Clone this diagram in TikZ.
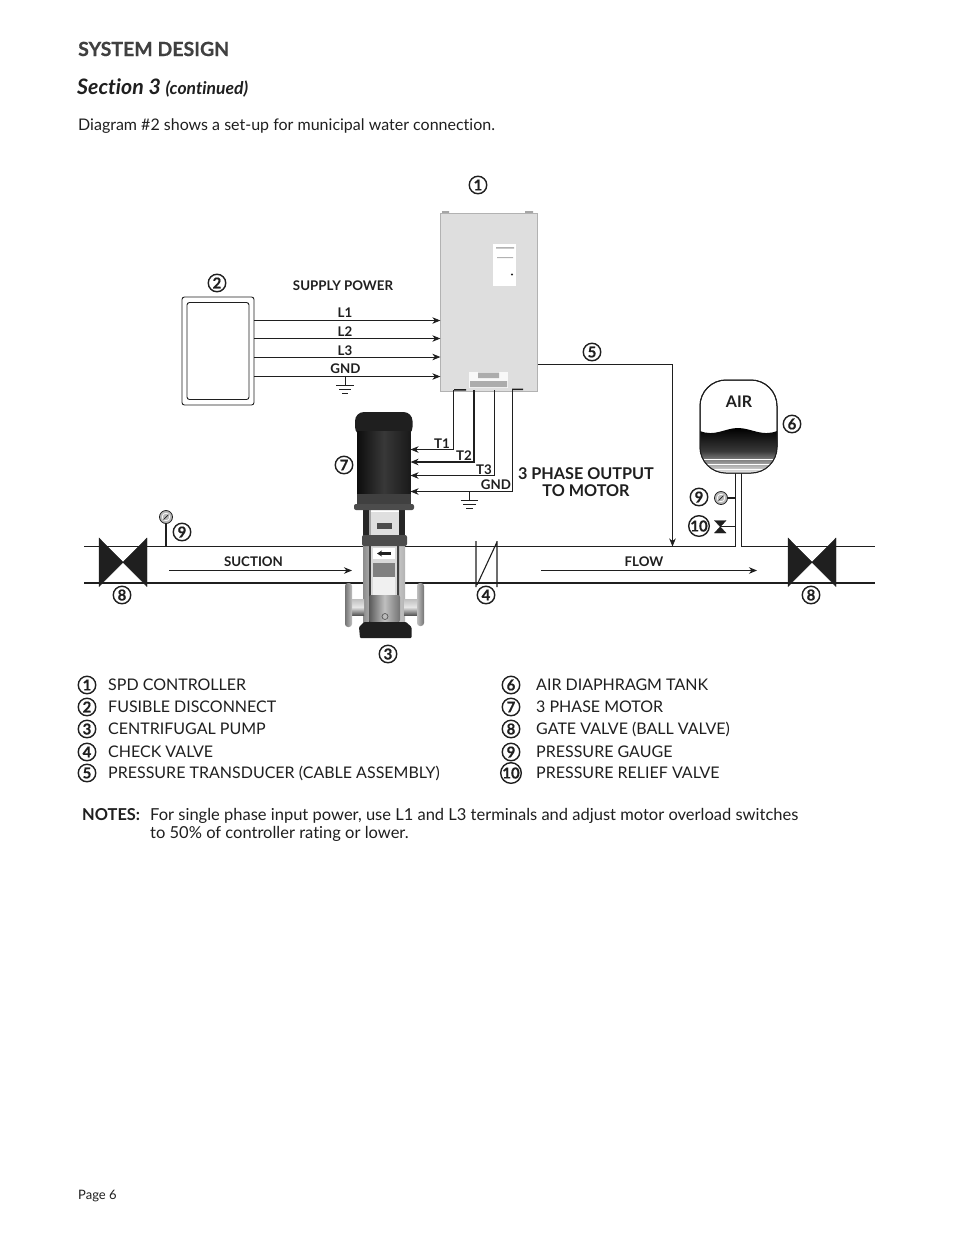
\documentclass[tikz,border=0pt]{standalone}
\usepackage{fontspec}
\setmainfont{Lato}[Ligatures=NoCommon]
\newfontfamily\heavyfont{Lato}[Ligatures=NoCommon, BoldFeatures={FakeBold=0.5}]
\usetikzlibrary{arrows.meta}
\usetikzlibrary{calc}
\definecolor{inkblack}{gray}{0.12}
\definecolor{boxgray}{gray}{0.87}
\tikzset{
    wire/.style={draw=inkblack, line width=0.8pt},
    feed/.style={wire, >={Stealth[length=8pt,width=6.5pt,inset=2.5pt]}, ->},
    pipe/.style={draw=inkblack, line width=1.1pt},
    numbered/.style={draw=inkblack, circle, line width=1.4pt, inner sep=0pt, minimum size=17.5pt, font=\heavyfont\fontsize{15}{15}\selectfont\bfseries, text=inkblack},
    tag/.style={font=\fontsize{13.3}{13}\selectfont\bfseries, text=inkblack, inner sep=0pt, anchor=base},
    bigtag/.style={font=\fontsize{16.2}{17}\selectfont\bfseries, text=inkblack, inner sep=0pt, align=center},
    body/.style={font=\fontsize{16}{18}\selectfont, text=inkblack, inner sep=0pt, anchor=base west},
    note/.style={body, font=\fontsize{16.5}{18}\selectfont},
    gauge/.style={draw=inkblack, circle, fill=gray!55, line width=0.8pt, minimum size=13pt, inner sep=0pt},
    valve/.style={fill=inkblack, draw=inkblack}
}
\begin{document}
\begin{tikzpicture}[x=1pt, y=-1pt]
        \useasboundingbox[fill=white] (0,0) rectangle (954,1235);
        % heading
        \node[anchor=base west, inner sep=0pt, text=black!75, font=\heavyfont\fontsize{19.5}{18}\selectfont\bfseries] (title) at (78,56) {SYSTEM DESIGN};
        \node[anchor=base west, inner sep=0pt, text=inkblack, font=\fontsize{21.3}{18}\selectfont\bfseries\itshape] (section) at (77,94) {Section 3 {\fontsize{17.5}{15}\selectfont (continued)}};
        \node[body] (intro) at (78,130) {Diagram \#2 shows a set-up for municipal water connection.};
        % controller
        \fill[gray!70] (442,211) rectangle (449,215) (525,211) rectangle (533,215);
        \node[draw=gray!60, fill=boxgray, minimum width=97pt, minimum height=178pt, inner sep=0pt, line width=0.3pt] (ctrl) at (489,302) {};
        \node[fill=white, minimum width=23pt, minimum height=42pt, inner sep=0pt] (panel) at (504.5,265) {};
        \fill[inkblack] (512,274.5) circle (1.1pt);
        \fill[gray!60] (496,247) rectangle (514,248.5) (497,257) rectangle (513,258.2);
        \node[fill=white!80!boxgray, minimum width=39pt, minimum height=16pt, inner sep=0pt] (plate) at (488.5,380) {};
        \fill[gray!65] (470,381) rectangle (507,387) (478,372.5) rectangle (499,378);
        \fill[inkblack] (454,389) rectangle (466,390.5) (512,388.5) rectangle (523,390);
        % disconnect
        \node[draw=inkblack, rounded corners=2.5pt, line width=0.9pt, minimum width=72pt, minimum height=108pt, inner sep=0pt] (fuse) at (218,351) {};
        \node[draw=inkblack, rounded corners=2.5pt, line width=0.9pt, minimum width=62pt, minimum height=97pt, inner sep=0pt] (fuseinner) at (218,351) {};
        \node[tag] (supply) at (343,290) {SUPPLY POWER};
        \coordinate (a1) at (fuse.east |- 0,320.5);
        \coordinate (a2) at (fuse.east |- 0,338.5);
        \coordinate (a3) at (fuse.east |- 0,357);
        \coordinate (a4) at (fuse.east |- 0,376.5);
        \draw[feed] (a1) -- (a1 -| ctrl.west);
        \draw[feed] (a2) -- (a2 -| ctrl.west);
        \draw[feed] (a3) -- (a3 -| ctrl.west);
        \draw[feed] (a4) -- (a4 -| ctrl.west);
        \node[tag] (l1) at (345,317) {L1};
        \node[tag] (l2) at (345,336) {L2};
        \node[tag] (l3) at (345,355) {L3};
        \node[tag] (gnda) at (345.5,373) {GND};
        \coordinate (g1) at (345,376.5);
        \draw[wire] (g1) -- ++(0,9);
        \draw[wire] (336,385.5) -- (354,385.5) (339,389.5) -- (351,389.5) (342,393.5) -- (348,393.5);
        % motor leads
        \coordinate (m1) at (410.5,449.5);
        \coordinate (m2) at (410.5,462);
        \coordinate (m3) at (410.5,475.5);
        \coordinate (m4) at (410.5,491.5);
        \draw[feed] (453.5,390) |- (m1);
        \draw[feed, line width=1.2pt] (474,390) |- (m2);
        \draw[feed] (494.5,390) |- (m3);
        \draw[feed] (512.5,390) |- (m4);
        \node[tag] (t1) at (442,448) {T1};
        \node[tag] (t2) at (464,460) {T2};
        \node[tag] (t3) at (484,474) {T3};
        \node[tag] (gndb) at (496,489) {GND};
        \draw[wire] (469.5,491.5) -- (469.5,500.5);
        \draw[wire] (460.5,500.5) -- (478,500.5) (463,504.5) -- (476,504.5) (466,508.5) -- (473,508.5);
        \node[bigtag] (phase) at (586,482.5) {3 PHASE OUTPUT\\TO MOTOR};
        % pipe
        \draw[pipe] (84,546.5) -- (735,546.5);
        \draw[pipe] (741.5,546.5) -- (875,546.5);
        \draw[pipe, line width=2pt] (84,582.5) -- (875,582.5);
        \draw[wire] (735,473) -- (735,546.5) (741.5,473) -- (741.5,546.5);
        \draw[feed] (169,570.5) -- (352,570.5);
        \draw[feed] (541,570.5) -- (757,570.5);
        \node[tag] (suction) at (253.5,566) {SUCTION};
        \node[tag] (flow) at (644,566) {FLOW};
        \draw[feed] (ctrl.east |- 0,364.5) -| (672.5,546.5);
        % check valve
        \draw[pipe] (476,541) -- (476,587) (497,541) -- (497,587) (477,585) -- (497,542);
        % gate valves
        \fill[valve] (99,538) -- (147,586.5) -- (147,538) -- (99,586.5) -- cycle;
        \fill[valve] (788,538) -- (836,586.5) -- (836,538) -- (788,586.5) -- cycle;
        % tank
        \draw[line width=1pt, draw=inkblack, fill=white, rounded corners=26pt] (700,473) rectangle (777,380);
        \begin{scope}
            \clip[rounded corners=26pt] (700,473) rectangle (777,380);
            \shade[top color=black, bottom color=black!4, middle color=black!78] (700,431) .. controls (715,437) and (725,428) .. (738,428) .. controls (751,428) and (762,437) .. (777,431) -- (777,474) -- (700,474) -- cycle;
            \draw[white, line width=0.6pt] (700,459) -- (777,459) (700,464) -- (777,464) (700,469) -- (777,469);
        \end{scope}
        \draw[line width=1pt, draw=inkblack, rounded corners=26pt] (700,473) rectangle (777,380);
        \node[font=\fontsize{16}{14}\selectfont\bfseries, text=inkblack, inner sep=0pt, anchor=base] (air) at (739,407.5) {AIR};
        % gauges
        \node[gauge] (gaugea) at (166,517) {};
        \draw[white, line width=0.7pt] (gaugea) circle (3.8pt);
        \draw[inkblack, line width=0.7pt] (163.5,519.5) -- (168.5,514.5);
        \draw[wire, line width=1.3pt] (gaugea) -- (166,546.5);
        \node[gauge] (gaugeb) at (721,498) {};
        \draw[white, line width=0.7pt] (gaugeb) circle (3.8pt);
        \draw[inkblack, line width=0.7pt] (718.5,500.5) -- (723.5,495.5);
        \draw[wire, line width=1.3pt] (gaugeb) -- (735,498);
        \fill[valve] (714.5,520.5) -- (726,520.5) -- (714.5,533) -- (726,533) -- cycle;
        \draw[wire, line width=1.3pt] (720,526.5) -- (735,526.5);
        % pump
        \fill[gray!25] (368,512) rectangle (400,536);
        \fill[black!85] (363,510) rectangle (369,536);
        \fill[black!35] (369,510) rectangle (371,536);
        \fill[black!85] (399,510) rectangle (405,536);
        \fill[black!70] (377,523) rectangle (392,529);
        \shade[left color=black!45, right color=black!30, middle color=black!8] (363,545) rectangle (405,622);
        \fill[black!75] (369,546) rectangle (371,622) (397,546) rectangle (399,622);
        \fill[black!15] (371,546) rectangle (397,595);
        \fill[white] (373,548) rectangle (395,559);
        \draw[inkblack, line width=2.2pt, -{Stealth[length=5pt,width=6pt]}] (391,553.5) -- (377,553.5);
        \fill[black!50] (373,563) rectangle (395,577);
        \fill[black!6] (373,577) rectangle (395,595);
        \shade[left color=black!65, right color=black!55, middle color=black!25, rounded corners=2pt] (369,595) rectangle (400,622);
        \draw[black!65, line width=0.7pt] (385,616.5) circle (3pt);
        \shade[top color=black!25, bottom color=black!65, middle color=black!10] (352,599) rectangle (364,615);
        \shade[top color=black!25, bottom color=black!65, middle color=black!10] (404,599) rectangle (417,615);
        \shade[left color=black!55, right color=black!25, rounded corners=3pt] (345,583) rectangle (352,627);
        \shade[left color=black!25, right color=black!55, rounded corners=3pt] (417,583) rectangle (424,626);
        \fill[inkblack, rounded corners=1pt] (359,627) -- (364,622) -- (406,622) -- (411.5,627) -- (411.5,638) -- (360,638) -- cycle;
        \fill[black!70, rounded corners=2pt] (362,535) rectangle (407,546);
        \fill[black!88, rounded corners=9pt] (355,436) -- (355,412) -- (412.5,412) -- (412.5,436) -- cycle;
        \shade[left color=black!95, right color=black!90, middle color=black!78] (357,431) rectangle (410.5,494);
        \fill[black!75] (357,494) rectangle (410.5,505);
        \fill[black!70, rounded corners=2pt] (354,504) rectangle (414,510);
        % callouts
        \node[numbered] (n1) at (478,185) {1};
        \node[numbered] (n2) at (217,283) {2};
        \node[numbered] (n3) at (388,654) {3};
        \node[numbered] (n4) at (486,595) {4};
        \node[numbered] (n5) at (592,352) {5};
        \node[numbered] (n6) at (792,424) {6};
        \node[numbered] (n7) at (344,465) {7};
        \node[numbered] (n8a) at (122,595) {8};
        \node[numbered] (n8b) at (811,595) {8};
        \node[numbered] (n9a) at (182,532) {9};
        \node[numbered] (n9b) at (699,497) {9};
        \node[numbered] (n10) at (699,526) {10};
        % legend
        \node[numbered] (k1) at (87,685) {1};
        \node[numbered] (k2) at (87,707) {2};
        \node[numbered] (k3) at (87,729) {3};
        \node[numbered] (k4) at (87,752) {4};
        \node[numbered] (k5) at (87,773) {5};
        \node[numbered] (k6) at (511,685) {6};
        \node[numbered] (k7) at (511,707) {7};
        \node[numbered] (k8) at (511,729) {8};
        \node[numbered] (k9) at (511,752) {9};
        \node[numbered] (k10) at (511,773) {10};
        \node[body] (s1) at (108,690) {SPD CONTROLLER};
        \node[body] (s2) at (108,712) {FUSIBLE DISCONNECT};
        \node[body] (s3) at (108,734) {CENTRIFUGAL PUMP};
        \node[body] (s4) at (108,757) {CHECK VALVE};
        \node[body] (s5) at (108,778.5) {PRESSURE TRANSDUCER (CABLE ASSEMBLY)};
        \node[body] (s6) at (536,690) {AIR DIAPHRAGM TANK};
        \node[body] (s7) at (536,712) {3 PHASE MOTOR};
        \node[body] (s8) at (536,734) {GATE VALVE (BALL VALVE)};
        \node[body] (s9) at (536,757) {PRESSURE GAUGE};
        \node[body] (s10) at (536,778.5) {PRESSURE RELIEF VALVE};
        % notes
        \node[body, font=\fontsize{16.4}{18}\selectfont\bfseries] (notes) at (82,820) {NOTES:};
        \node[note] (notea) at (150,820) {For single phase input power, use L1 and L3 terminals and adjust motor overload switches};
        \node[note] (noteb) at (150,838) {to 50\% of controller rating or lower.};
        \node[body, font=\fontsize{13}{14}\selectfont] (page) at (78,1199) {Page 6};
    \end{tikzpicture}
\end{document}
